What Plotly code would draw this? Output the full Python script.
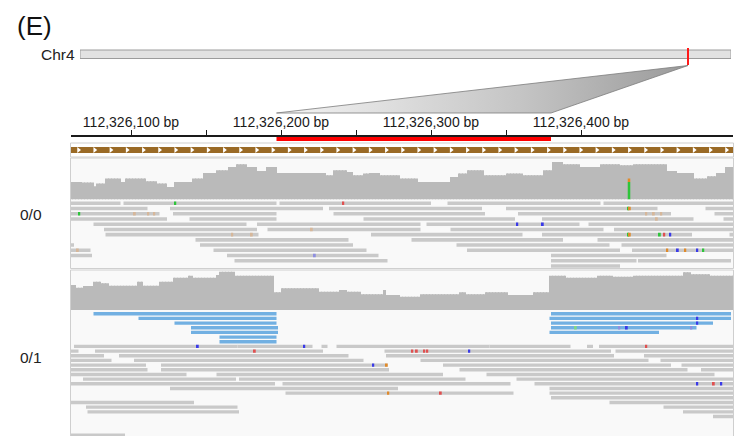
import numpy as np
import plotly.graph_objects as go

W, H = 746, 436
FONT = "Liberation Sans, Arial, sans-serif"

# ---------------- data ----------------
PANEL_TAG = "(E)"
CHROM = "Chr4"
CHROM_LEN = 120_270_000
LOCUS = 112_326_280
ORIGIN = 112_326_000                 # positions below are offsets from this
VIEW = [60.0, 501.33]
REGION = [197, 380]                  # highlighted (deleted) interval
TICKS = [100, 150, 200, 250, 300, 350, 400]
TICK_LABELS = ["112,326,100 bp", "", "112,326,200 bp", "", "112,326,300 bp", "", "112,326,400 bp"]
GENE = [-50, 560]
SAMPLES = ["0/0", "0/1"]

# coverage (step profile: start offset, depth)
COV1_START = [60, 67, 75, 77, 83, 93, 96, 110, 117, 124, 129, 141, 148, 157, 165, 170, 177, 184, 190, 197,
              230, 235, 244, 248, 255, 259, 266, 279, 291, 313, 318, 324, 335, 350, 361, 375, 381, 388, 399, 413,
              426, 435, 457, 464, 475, 484, 490, 496]
COV1_DEPTH = [17.6, 17, 13.3, 16, 21, 17.6, 21, 18.3, 16, 12.6, 17.6, 21, 26.6, 29.3, 32.6, 35.3, 32.6, 28.6, 32.6, 26.6,
              24.3, 29.3, 27.6, 24.3, 26, 26.6, 24.3, 21, 17.6, 22.6, 26, 29.3, 24.3, 26, 24.3, 29.3, 37.6, 35.3, 32.6, 35.3,
              34.3, 35.3, 28.6, 26.6, 21, 23.3, 26.6, 32.6]
COV2_START = [60, 63, 68, 75, 80, 85, 104, 108, 119, 128, 138, 141, 157, 159, 169, 195, 200, 225, 239, 244,
              253, 268, 270, 279, 293, 319, 323, 336, 351, 368, 379, 390, 411, 421, 435, 468, 473, 486]
COV2_DEPTH = [25, 22.3, 24, 28.3, 26.7, 24.3, 28.3, 24.3, 28.3, 32.3, 34.3, 32.3, 35, 38.3, 34.3, 17.7, 21.7, 18.3, 20, 18.3,
              15.7, 20, 15, 13.3, 15.7, 17.7, 15.7, 17.7, 15, 17.7, 34.3, 32.3, 34.3, 33.3, 34.3, 37.7, 35.7, 34.3]
# SNP column in sample 0/0 coverage: position, allele, depth
SNP1 = [(432, "A", 17.6), (432, "G", 3.4)]

# reads: (row, start, end)
READS1 = [
    (0, -8, 93), (0, 95, 197), (0, 199, 300), (0, 311, 413), (0, 415, 516),
    (1, 10, 111), (1, 126, 228), (1, 232, 334), (1, 350, 451), (1, 483, 584),
    (2, 18, 119), (2, 128, 197), (2, 235, 336), (2, 358, 460), (2, 489, 590),
    (3, 23, 124), (3, 139, 197), (3, 255, 356), (3, 374, 475), (3, 495, 596),
    (4, 75, 177), (4, 184, 293), (4, 297, 399), (4, 405, 506),
    (5, 82, 184), (5, 191, 293), (5, 313, 415), (5, 422, 523),
    (6, 83, 185), (6, 260, 361), (6, 374, 474), (6, 499, 600),
    (7, 143, 245), (7, 287, 388), (7, 411, 512),
    (8, -39, 62), (8, 146, 248), (8, 317, 419), (8, 427, 528),
    (9, -28, 73), (9, 155, 257), (9, 324, 426), (9, 434, 535),
    (10, -27, 74), (10, 164, 265), (10, 380, 457),
    (11, 169, 271), (11, 380, 437), (11, 438, 500),
    (12, 380, 426),
]
READS2_SPLIT = [   # discordant / split reads (blue)
    (0, 75, 197), (0, 380, 500),
    (1, 105, 197), (1, 379, 500),
    (2, 129, 197), (2, 380, 488),
    (3, 140, 198), (3, 380, 477),
    (4, 140, 198), (4, 379, 452),
    (5, 159, 197),
    (6, 159, 197),
]
READS2 = [
    (7, 62, 171), (7, 171, 221), (7, 227, 231), (7, 237, 339), (7, 339, 393), (7, 404, 408), (7, 412, 513),
    (8, -37, 65), (8, 76, 228), (8, 269, 420), (8, 423, 524),
    (9, -19, 82), (9, 92, 245), (9, 270, 422), (9, 442, 543),
    (10, -14, 87), (10, 102, 255), (10, 293, 445), (10, 453, 554),
    (11, 9, 110), (11, 120, 271), (11, 308, 460), (11, 467, 568),
    (12, 10, 111), (12, 120, 272), (12, 319, 471), (12, 480, 581),
    (13, 36, 137), (13, 157, 308), (13, 337, 489),
    (14, 68, 170), (14, 172, 323), (14, 357, 510),
    (15, -5, 196), (15, 201, 353), (15, 369, 510),
    (16, 126, 278), (16, 379, 510),
    (17, 203, 355), (17, 379, 510),
    (18, 380, 510),
    (19, 41, 142), (19, 419, 520),
    (20, 70, 171), (20, 455, 556),
    (21, 71, 172), (21, 468, 569),
    (22, 488, 589),
    (26, -5, 96),
]
# mismatches: (row, position, kind)
MIS1 = [(0, 129, "A"), (0, 241, "T"), (2, 65, "A"), (2, 102, "q"), (2, 111, "q"), (2, 115, "q"),
        (5, 220, "q"), (6, 167, "q"), (6, 180, "q"), (9, 64, "q"), (10, 222, "c"), (4, 357, "C"), (4, 374, "C"),
        (1, 431, "A"), (1, 432, "G"), (6, 431, "A"), (6, 432, "G"), (6, 452, "A"), (6, 455, "T"), (6, 459, "C"),
        (9, 457, "G"), (9, 464, "C"), (9, 469, "G"), (9, 477, "C"), (9, 481, "A"),
        (2, 443, "q"), (2, 448, "q"), (2, 453, "q"), (3, 450, "q")]
MIS2 = [(1, 477, "C"), (2, 477, "C"), (3, 396, "a"), (3, 425, "c"), (3, 430, "C"), (3, 473, "c"),
        (7, 144, "C"), (7, 215, "C"), (7, 443, "T"), (8, 182, "T"), (8, 287, "T"), (8, 290, "T"), (8, 295, "T"),
        (8, 297, "T"), (8, 325, "C"), (11, 261, "C"), (11, 270, "G"), (15, 477, "C"), (15, 488, "T"),
        (15, 493, "C"), (17, 271, "G"), (17, 306, "T")]

BASE_COLORS = {"A": "#2ec43a", "C": "#3a3ae8", "G": "#e08a2a", "T": "#e05050",
               "a": "#7fd88a", "c": "#8f8fe0", "q": "#d6b79a"}
READ_GREY = "#c9c9c9"
SPLIT_BLUE = "#72b0e2"
COV_GREY = "#bababa"


# ---------------- helpers ----------------
def py(y):
    return 1 - y / H


X0_PX, X1_PX = 71, 733
CX0_PX, CX1_PX = 80, 731


def gen_px(off):
    return X0_PX + (off - VIEW[0]) / (VIEW[1] - VIEW[0]) * (X1_PX - X0_PX)


def chr_px(pos):
    return CX0_PX + pos / CHROM_LEN * (CX1_PX - CX0_PX)


def step_profile(starts, depths):
    pos = np.arange(int(VIEW[0]), int(np.ceil(VIEW[1])) + 1)
    idx = np.searchsorted(np.array(starts), pos, side="right") - 1
    idx = np.clip(idx, 0, len(depths) - 1)
    return pos, np.array(depths)[idx]


def read_bars(reads, yaxis, color, width):
    rows = [r[0] for r in reads]
    starts = [ORIGIN + r[1] for r in reads]
    lens = [r[2] - r[1] for r in reads]
    return go.Bar(y=rows, x=lens, base=starts, orientation="h", width=width,
                  marker=dict(color=color, line=dict(width=0)),
                  xaxis="x", yaxis=yaxis, hoverinfo="skip")


def mismatch_bars(mis, yaxis, width):
    return go.Bar(y=[m[0] for m in mis], x=[1.3] * len(mis), base=[ORIGIN + m[1] - 0.15 for m in mis],
                  orientation="h", width=width,
                  marker=dict(color=[BASE_COLORS[m[2]] for m in mis], line=dict(width=0)),
                  xaxis="x", yaxis=yaxis, hoverinfo="skip")


traces = []

# zoom wedge (pixel overlay axes)
lx = chr_px(LOCUS)
traces.append(go.Scatter(
    x=[lx, gen_px(REGION[0]), gen_px(REGION[1]), lx],
    y=[65.5, 113, 113, 65.5], mode="lines", fill="toself",
    fillgradient=dict(type="horizontal", colorscale=[[0, "#f4f4f4"], [0.6, "#c4c4c4"], [1, "#9a9a9a"]]),
    line=dict(color="#7c7c7c", width=0.8), xaxis="x3", yaxis="y3", hoverinfo="skip"))

# ideogram
traces.append(go.Bar(x=[CHROM_LEN], base=[0], y=[0.618], orientation="h", width=0.447,
                     marker=dict(color="#e2e2e2", line=dict(color="#9c9c9c", width=1)),
                     xaxis="x2", yaxis="y2", hoverinfo="skip"))
traces.append(go.Scatter(x=[LOCUS, LOCUS], y=[0.05, 0.95], mode="lines",
                         line=dict(color="#ff1a1a", width=2), xaxis="x2", yaxis="y2", hoverinfo="skip"))

# ruler region
traces.append(go.Bar(x=[REGION[1] - REGION[0]], base=[ORIGIN + REGION[0]], y=[0.5], width=1,
                     orientation="h", marker=dict(color="#ff0000", line=dict(width=0)),
                     xaxis="x", yaxis="y", hoverinfo="skip"))

# gene feature with strand chevrons
traces.append(go.Bar(x=[GENE[1] - GENE[0]], base=[ORIGIN + GENE[0]], y=[7], width=6, orientation="h",
                     marker=dict(color="#9a6a26", line=dict(width=0)), xaxis="x", yaxis="y4", hoverinfo="skip"))
chev = ORIGIN + np.arange(VIEW[0] + 5, VIEW[1], 10.8)
traces.append(go.Scatter(x=chev, y=[7] * len(chev), mode="markers",
                         marker=dict(symbol="triangle-right", size=5, color="white", line=dict(width=0)),
                         xaxis="x", yaxis="y4", hoverinfo="skip"))

# coverage tracks
for starts, depths, ya in [(COV1_START, COV1_DEPTH, "y5"), (COV2_START, COV2_DEPTH, "y7")]:
    pos, dep = step_profile(starts, depths)
    traces.append(go.Bar(x=ORIGIN + pos + 0.5, y=dep, width=0.82,
                         marker=dict(color=COV_GREY, line=dict(width=0)),
                         xaxis="x", yaxis=ya, hoverinfo="skip"))
base_acc = 0
for p, allele, d in SNP1:
    traces.append(go.Bar(x=[ORIGIN + p], y=[d], base=[base_acc], width=1.7,
                         marker=dict(color=BASE_COLORS[allele], line=dict(width=0)),
                         xaxis="x", yaxis="y5", hoverinfo="skip"))
    base_acc += d

# reads
traces.append(read_bars(READS1, "y6", READ_GREY, 0.68))
traces.append(mismatch_bars(MIS1, "y6", 0.68))
traces.append(read_bars(READS2_SPLIT, "y8", SPLIT_BLUE, 0.72))
traces.append(read_bars(READS2, "y8", READ_GREY, 0.72))
traces.append(mismatch_bars(MIS2, "y8", 0.72))

fig = go.Figure(traces)

# panel frames
shapes = []
for (y0, y1, fill) in [(143, 157, "white"), (158, 268.5, "#f9f9f9"), (270, 440, "#f9f9f9")]:
    shapes.append(dict(type="rect", xref="paper", yref="paper", x0=70.5 / W, x1=733.5 / W,
                       y0=py(y1), y1=py(y0), line=dict(color="#cfcfcf", width=1),
                       fillcolor=fill, layer="below"))

annotations = [
    dict(text=PANEL_TAG, x=15 / W, y=py(26), xref="paper", yref="paper", xanchor="left", yanchor="middle",
         showarrow=False, font=dict(family=FONT, size=26, color="#111")),
    dict(text=CHROM, x=77 / W, y=py(55), xref="paper", yref="paper", xanchor="right", yanchor="middle",
         showarrow=False, font=dict(family=FONT, size=15.5, color="#222")),
    dict(text=SAMPLES[0], x=31 / W, y=py(214), xref="paper", yref="paper", xanchor="center", yanchor="middle",
         showarrow=False, font=dict(family=FONT, size=15.5, color="#222")),
    dict(text=SAMPLES[1], x=31 / W, y=py(357), xref="paper", yref="paper", xanchor="center", yanchor="middle",
         showarrow=False, font=dict(family=FONT, size=15.5, color="#222")),
]

hidden = dict(visible=False, fixedrange=True, showgrid=False, zeroline=False)
fig.update_layout(
    width=W, height=H, margin=dict(l=0, r=0, t=0, b=0),
    paper_bgcolor="white", plot_bgcolor="rgba(0,0,0,0)",
    barmode="overlay", showlegend=False, shapes=shapes, annotations=annotations,
    xaxis=dict(domain=[X0_PX / W, X1_PX / W], range=[ORIGIN + VIEW[0], ORIGIN + VIEW[1]], anchor="y",
               side="top", showline=True, linecolor="#1a1a1a", linewidth=1.5, ticks="outside",
               ticklen=5, tickwidth=1, tickcolor="#1a1a1a", ticklabelstandoff=-3,
               tickvals=[ORIGIN + t for t in TICKS], ticktext=TICK_LABELS,
               tickfont=dict(family=FONT, size=14, color="#1a1a1a"),
               showgrid=False, zeroline=False, fixedrange=True),
    yaxis=dict(domain=[py(141), py(136.5)], range=[0, 1], anchor="x", **hidden),
    xaxis2=dict(domain=[CX0_PX / W, CX1_PX / W], range=[0, CHROM_LEN], anchor="y2", **hidden),
    yaxis2=dict(domain=[py(66), py(47)], range=[0, 1], anchor="x2", **hidden),
    xaxis3=dict(domain=[0, 1], range=[0, W], anchor="y3", **hidden),
    yaxis3=dict(domain=[0, 1], range=[H, 0], anchor="x3", **hidden),
    yaxis4=dict(domain=[py(157), py(143)], range=[0, 14], anchor="x", **hidden),
    yaxis5=dict(domain=[py(199.5), py(160)], range=[0, 39.5], anchor="x", **hidden),
    yaxis6=dict(domain=[py(268.6), py(200.7)], range=[12.5, -0.5], anchor="x", **hidden),
    yaxis7=dict(domain=[py(310), py(270.5)], range=[0, 39.5], anchor="x", **hidden),
    yaxis8=dict(domain=[0, py(311.4)], range=[26.18, -0.5], anchor="x", **hidden),
)

fig.write_html("out.html", config={"displayModeBar": False},
               post_script="document.body.style.margin='0';document.body.style.overflow='hidden';")
